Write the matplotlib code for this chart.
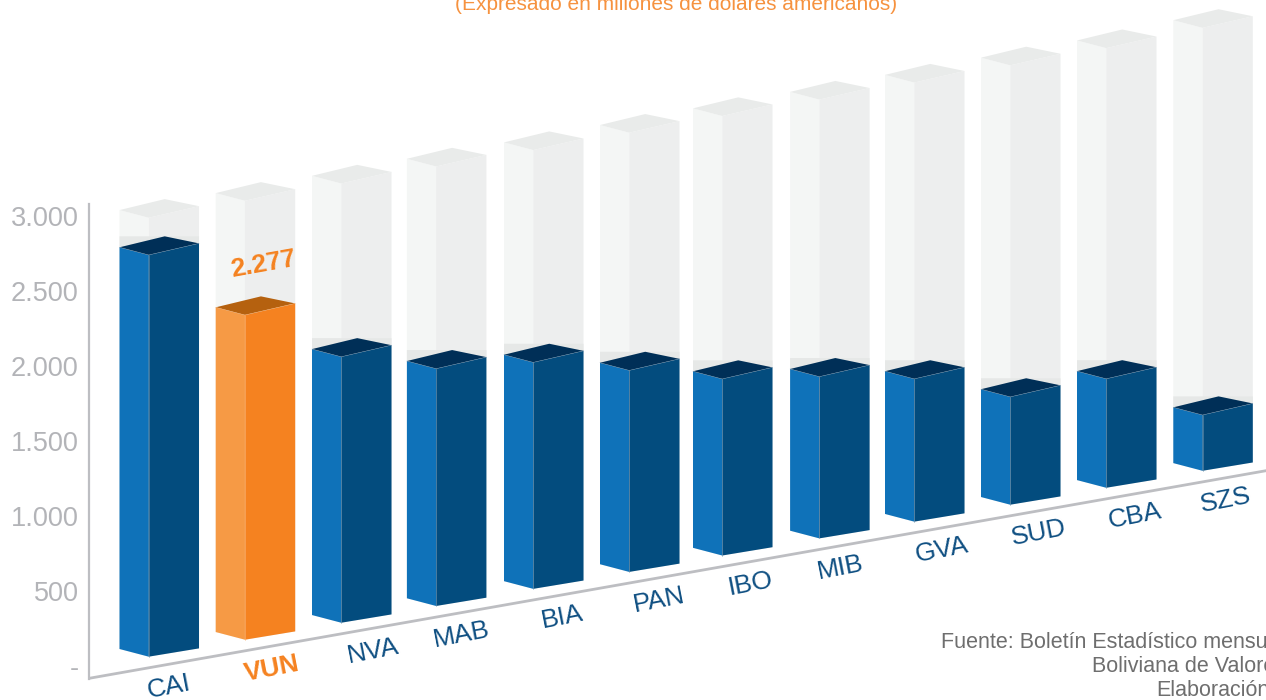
#!/usr/bin/env python3
"""Cartera por agencia: barras en perspectiva con fondo hasta el maximo."""
import matplotlib as mpl
mpl.use("Agg")
import matplotlib.pyplot as plt
from matplotlib.ticker import FuncFormatter
from matplotlib.transforms import Affine2D

plt.rcParams["font.family"] = ["Liberation Sans", "DejaVu Sans"]

CATEGORIES = ["CAI", "VUN", "NVA", "MAB", "BIA", "PAN", "IBO", "MIB", "GVA", "SUD", "CBA", "SZS"]
VALUES = [2817, 2277, 1865, 1664, 1588, 1413, 1238, 1134, 1001, 756, 764, 391]
GHOST_VALUES = [3078, 3078, 3080, 3082, 3077, 3080, 3082, 3077, 3079, 3081, 3083, 3106]
HIGHLIGHT = "VUN"
Y_TICKS = [0, 500, 1000, 1500, 2000, 2500, 3000]

# pixel layout of the sheared drawing
X0, DX = 119.5, 95.8
Y0, SCALE = 649.0, 0.1426
SHEAR = 16.9 / SCALE
BAR_NUDGE = [0, 0.4, 0.9, 0, 1.3, 1.5, -1.3, 0, -0.9, -0.7, -0.5, 0]
LABEL_NUDGE = [-5, 2, 7, 0, 5, 6, 2, -4, 1, 2, 3, -2]

# bar corners relative to (i, value): category units, value units
FRONT = (0.305, -90)
RIGHT = (0.83, -71)
RIGHT_LOW = -94
BACK = (0.472, 21)
BAND_LEFT, BAND_RIGHT = 77, -22

BLUE = ("#0F72B9", "#034C7E", "#002F57")
ORANGE = ("#F69A45", "#F58220", "#B5610F")
GHOST = ("#F4F6F5", "#EDEEEE", "#E9EBEA")
BAND = "#E6E8E7"
AXIS_COLOR = "#BDBEC2"
TICK_COLOR = "#B3B4B8"
LABEL_COLOR = "#0F4F82"
ACCENT = "#F58220"


def box(ax, tr, i, low, high, colors, seam=None):
    left, right, top = colors
    fx, fv = FRONT
    rx, rv = RIGHT
    bx, bv = BACK
    ax.fill([i, i + fx, i + fx, i], [low, low + fv, high + fv, high],
            color=left, lw=0, transform=tr)
    ax.fill([i + fx, i + rx, i + rx, i + fx], [low + fv, low + RIGHT_LOW, high + rv, high + fv],
            color=right, lw=0, transform=tr)
    ax.fill([i, i + fx, i + rx, i + bx], [high, high + fv, high + rv, high + bv],
            color=top, lw=0, transform=tr)
    if seam:
        ax.plot([i + fx, i + fx], [low + fv, high + fv], color=seam, lw=0.4, transform=tr)
        ax.plot([i, i + fx, i + rx], [high, high + fv, high + rv], color=seam, lw=0.3, transform=tr)


def thousands(v, _pos):
    return "-" if v == 0 else f"{int(v):,}".replace(",", ".")


fig = plt.figure(figsize=(12.66, 7.0), dpi=100, facecolor="white")
ax = fig.add_axes([0, 0, 1, 1])
ax.set_xlim(-X0 / DX, (1266 - X0) / DX)
ax.set_ylim((Y0 - 700) / SCALE, Y0 / SCALE)
ax.axis("off")
shear = Affine2D.from_values(1, SHEAR, 0, 1, 0, 0) + ax.transData

# ghost columns first, real bars on top
for i, (cat, val, ghost) in enumerate(zip(CATEGORIES, VALUES, GHOST_VALUES)):
    pos = i + BAR_NUDGE[i] / DX
    box(ax, shear, pos, 0, ghost, GHOST)
    if cat != HIGHLIGHT:
        ax.fill([pos, pos, pos + RIGHT[0], pos + RIGHT[0], pos + FRONT[0]],
                [val, val + BAND_LEFT, val + BAND_RIGHT, val + RIGHT[1], val + FRONT[1]],
                color=BAND, lw=0, transform=shear)

for i, (cat, val) in enumerate(zip(CATEGORIES, VALUES)):
    hot = cat == HIGHLIGHT
    pos = i + BAR_NUDGE[i] / DX
    box(ax, shear, pos, 0, val, ORANGE if hot else BLUE, seam="#F9B67A" if hot else "#6F93AE")
    ax.text(i + 0.57 + LABEL_NUDGE[i] / DX, -325, cat, transform=shear, rotation=11,
            rotation_mode="anchor", ha="center", va="center", fontsize=19,
            color=ACCENT if hot else LABEL_COLOR, fontweight="bold" if hot else "normal")
    if hot:
        ax.text(pos + 0.494, val + 245, thousands(val, None), transform=shear, rotation=10.1,
                rotation_mode="anchor", ha="center", va="center", fontsize=19,
                fontweight="bold", color=ACCENT)

# sloped floor line
ax.plot([-0.318, 12.0], [-168, -168], color=AXIS_COLOR, lw=2.0, transform=shear,
        solid_capstyle="butt")

# value axis is straight, on its own scale
ax_y = fig.add_axes([89 / 1266, 21 / 700, 0.001, 475 / 700])
ax_y.patch.set_visible(False)
ax_y.set_xticks([])
ax_y.set_ylim(-87, 3080)
ax_y.set_yticks(Y_TICKS)
ax_y.yaxis.set_major_formatter(FuncFormatter(thousands))
ax_y.tick_params(axis="y", length=0, pad=7.5, labelsize=19.5, labelcolor=TICK_COLOR)
for side in ("top", "right", "bottom"):
    ax_y.spines[side].set_visible(False)
ax_y.spines["left"].set_color(AXIS_COLOR)
ax_y.spines["left"].set_linewidth(1.6)

fig.text(676 / 1266, 1 - 5 / 700, "(Expresado en millones de dólares americanos)",
         ha="center", va="center", fontsize=15, color="#F6923F")
fig.text(941 / 1266, 1 - 642 / 700, "Fuente: Boletín Estadístico mensual", ha="left", va="center",
         fontsize=15.5, color="#6E6E6E")
fig.text(1092 / 1266, 1 - 666 / 700, "Boliviana de Valores", ha="left", va="center",
         fontsize=15.5, color="#6E6E6E")
fig.text(1156 / 1266, 1 - 690 / 700, "Elaboración:", ha="left", va="center",
         fontsize=15.5, color="#6E6E6E")

fig.savefig("out.png", dpi=100, facecolor="white")
